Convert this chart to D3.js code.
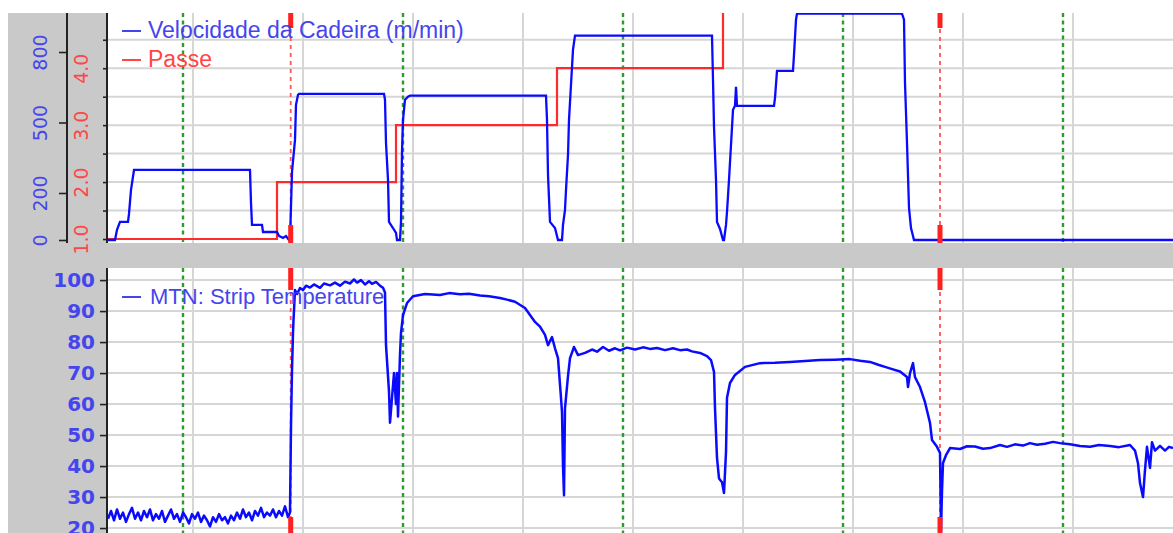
<!DOCTYPE html>
<html>
<head>
<meta charset="utf-8">
<script src="https://cdn.jsdelivr.net/npm/d3@7"></script>
<style>
  html, body { margin: 0; padding: 0; background: #fff; }
  svg { display: block; }
</style>
</head>
<body>
<svg id="chart" width="1173" height="533"></svg>
<script>
// time axis in seconds, gridlines every 55 s
var timeDomain = [12.5, 545];
var gridTimes = [55, 110, 165, 220, 275, 330, 385, 440, 495];
var greenMarks = [50, 160, 270, 380, 490];
var redMarks = [103.85, 428.5];

// Velocidade da Cadeira (m/min)
var speedData = [
  [12.5,0],[16,0],[17,43],[18.5,77],[22.5,77],[23,111],[24,213],[25.5,298],
  [83.5,298],[84,158],[84.5,64],[89.5,64],[90,34],[97,34],[98,17],[100,9],[101.5,17],[103,0],[103.5,0],
  [104,145],[104.5,290],[106,426],[106.5,575],[107.5,618],[108,622],[150.5,622],
  [151,597],[151.5,413],[152.5,256],[153,77],[155,51],[156.5,30],[157,0],[158.5,0],
  [159,77],[159.5,375],[160,511],[161,597],[162.5,610],[163.5,614],[231.5,614],
  [232,511],[232.5,277],[233.5,77],[236,51],[237.5,0],[239.5,0],
  [240,64],[241,128],[241.5,213],[242.5,362],[243,511],[244,661],[245,810],[246,870],[314.5,870],
  [315,682],[315.5,482],[316.5,256],[317,77],[318.5,47],[320,0],[320.5,0],
  [321.5,64],[322,119],[323,256],[324,405],[325,554],[326,571],[326.5,652],[327,571],[345.5,571],
  [346,605],[347,720],[355,720],[355.5,789],[356.5,938],[357,963],[409.5,963],
  [410.5,938],[411,669],[412,413],[413,136],[414,51],[415.5,0],[545,0]
];

// Passe
var passeData = [[12.5,1],[97,2],[156.5,3],[237,4],[320,5],[545,5]];

// MTN: Strip Temperature
var tempData = [
  [12.5,23],[14,25.5],[15.5,22.5],[17,26],[18.5,23],[20,25],[21.5,22],[23,24.5],[24.5,26.5],[26,23],
  [27.5,25],[29,22.5],[30.5,25.5],[32,23.5],[33.5,26],[35,22.5],[36.5,24.5],[38,23],[39.5,25.5],[41,22],
  [42.5,24],[44,26],[45.5,23],[47,24.5],[48.5,22],[50,25],[51.5,23.5],[53,21.5],[54.5,24.5],[56,23],
  [57.5,25],[59,22],[60.5,24],[62,22.5],[63.5,20.5],[65,23.5],[66.5,22],[68,24.5],[69.5,22.5],[71,23.5],
  [72.5,21.5],[74,24],[75.5,22.5],[77,25],[78.5,23],[80,26],[81.5,23.5],[83,25],[84.5,22.5],[86,25.5],
  [87.5,24],[89,26.5],[90.5,23.5],[92,25],[93.5,24],[95,26],[96.5,23.5],[98,25.5],[99.5,24],[101,27],
  [102.5,23.5],[103.5,25],
  [104,53],[104.5,71],[105,83],[105.25,87],[106,96.8],[107,95.5],[108.5,97.4],[110,96.8],[111.5,98.2],
  [113.5,97.6],[115.5,98.6],[118.5,97.5],[120.5,98.9],[123.5,98.3],[126,99.2],[128.5,98.2],[131,99.5],
  [133.5,98.9],[135.5,100.2],[137,99.2],[139,100],[141,98.6],[143,99.6],[144.5,98.8],[146.5,99.4],
  [148.5,98.2],[150,97.5],[151,96],[151.5,79],[153,64],[153.5,54],[154.5,62],[155.5,70],[156.5,60],
  [157,70],[157.5,56],[158.5,76],[159,83],[160,88.7],[162,92.6],[165,94.8],[171,95.5],[178.5,95.2],
  [183,95.8],[188.5,95.4],[193,95.6],[198.5,95],[203,94.8],[208.5,94.2],[212,93.7],[216,93],[221,91],
  [226,86.5],[228.5,85],[231,82.3],[232.5,79],[234.5,81.6],[236,78],[237.5,74.8],[239,62],[239.5,57.4],
  [240,40],[240.5,30.6],[241,58.7],[242.5,69],[243.5,74.8],[245.5,78.4],[247.5,75.8],[251,76.5],
  [254.5,77.6],[257,76.9],[260,78.4],[263,77.2],[266,78],[268.5,77.3],[272,78.2],[276,77.6],[280,78.3],
  [283.5,77.8],[287,78.1],[291,77.4],[295,78],[298.5,77.4],[302,77.6],[304.5,77],[308.5,76.5],[312,75.5],
  [314,74.2],[315.5,70.4],[316,58.7],[317,42.6],[318,36],[319.5,34.8],[320.5,31.3],[321.5,44.5],[322,62],
  [323.5,66.8],[326,69.4],[331,72],[338.5,73.2],[346,73.3],[353.5,73.6],[361,73.9],[368.5,74.2],
  [376,74.3],[383.5,74.5],[388.5,74],[393.5,73.6],[398,72.6],[401,72],[405,71.2],[408.5,70.5],[412,68.7],
  [412.5,65.5],[413.5,70],[415,73.2],[416,68.7],[418.5,65.5],[421,60.6],[423.5,53.9],[424.5,48.4],
  [427,46.2],[428.5,44.2],[428.75,32],[429,19],[429.5,32],[430,41],[431.5,43.5],[433.5,45.8],[438.5,45.5],
  [442,46.4],[446,46.3],[450,45.6],[453.5,45.8],[458.5,46.8],[462,46.2],[466,47],[470,46.6],[473.5,47.4],
  [477,46.9],[481,47.2],[485,47.8],[488.5,47.4],[493.5,47],[498.5,46.5],[503.5,46.2],[508,46.8],
  [513.5,46.5],[518,46.1],[523.5,46.8],[526,45],[527.5,40.9],[528.5,34.5],[530,30],[531,38.7],[532,46.2],
  [533.5,39.4],[534.5,47.7],[536,45],[538.5,46.5],[541,45],[543,46.2],[545,45.8]
];

var speedTicks = [0, 200, 500, 800];
var passeTicks = [1, 1.5, 2, 2.5, 3, 3.5, 4, 4.5];
var tempTicks = [20, 30, 40, 50, 60, 70, 80, 90, 100];

var legendTop = ["Velocidade da Cadeira (m/min)", "Passe"];
var legendBottom = ["MTN: Strip Temperature"];

/*
  Layout
*/
var W = 1173, H = 533;
var plotLeft = 108, plotRight = 1173;
var top1 = 13, bot1 = 243, top2 = 268, bot2 = 533;

var BLUE = "#0a0aff", RED = "#ff2a2a", GREEN = "#2f9a2f", GRID = "#d6d6d6", PANEL = "#c9c9c9";
var BLUE_TXT = "#4545ee", RED_TXT = "#ff4545";

var svg = d3.select("#chart");

var x = d3.scaleLinear().domain(timeDomain).range([plotLeft, plotRight]);
var ySpeed = d3.scaleLinear().domain([-12.8, 966]).range([bot1, top1]);
var yPasse = d3.scaleLinear().domain([0.93, 4.97]).range([bot1, top1]);
var yTemp = d3.scaleLinear().domain([18.4, 103.9]).range([bot2, top2]);

var defs = svg.append("defs");
defs.append("clipPath").attr("id", "clipTop")
  .append("rect").attr("x", plotLeft).attr("y", top1).attr("width", plotRight - plotLeft).attr("height", bot1 - top1);
defs.append("clipPath").attr("id", "clipBot")
  .append("rect").attr("x", plotLeft).attr("y", top2).attr("width", plotRight - plotLeft).attr("height", bot2 - top2);

// gray frame and white plot areas
svg.append("rect").attr("x", 8).attr("y", top1).attr("width", W - 8).attr("height", H - top1).attr("fill", PANEL);
svg.append("rect").attr("x", plotLeft).attr("y", top1).attr("width", plotRight - plotLeft).attr("height", bot1 - top1).attr("fill", "#fff");
svg.append("rect").attr("x", plotLeft).attr("y", top2).attr("width", plotRight - plotLeft).attr("height", bot2 - top2).attr("fill", "#fff");

function drawPanelGrid(g, yScale, ticks, y0, y1) {
  g.selectAll("line.h").data(ticks).enter().append("line")
    .attr("class", "h")
    .attr("x1", plotLeft).attr("x2", plotRight)
    .attr("y1", function(d) { return yScale(d); }).attr("y2", function(d) { return yScale(d); })
    .attr("stroke", GRID).attr("stroke-width", 2);
  g.selectAll("line.v").data(gridTimes).enter().append("line")
    .attr("class", "v")
    .attr("x1", function(d) { return x(d); }).attr("x2", function(d) { return x(d); })
    .attr("y1", y0).attr("y2", y1)
    .attr("stroke", GRID).attr("stroke-width", 2);
  g.selectAll("line.green").data(greenMarks).enter().append("line")
    .attr("class", "green")
    .attr("x1", function(d) { return x(d); }).attr("x2", function(d) { return x(d); })
    .attr("y1", y0).attr("y2", y1)
    .attr("stroke", GREEN).attr("stroke-width", 2.4).attr("stroke-dasharray", "4,3.5");
  g.selectAll("line.red").data(redMarks).enter().append("line")
    .attr("class", "red")
    .attr("x1", function(d) { return x(d); }).attr("x2", function(d) { return x(d); })
    .attr("y1", y0).attr("y2", y1)
    .attr("stroke", "#ff5555").attr("stroke-width", 1.8).attr("stroke-dasharray", "4,4");
}

var gTop = svg.append("g").attr("clip-path", "url(#clipTop)");
var gBot = svg.append("g").attr("clip-path", "url(#clipBot)");

drawPanelGrid(gTop, yPasse, passeTicks.filter(function(d) { return d > 1; }), top1, bot1);
drawPanelGrid(gBot, yTemp, tempTicks, top2, bot2);

// data lines
gTop.append("path")
  .datum(passeData)
  .attr("fill", "none").attr("stroke", RED).attr("stroke-width", 2.2)
  .attr("d", d3.line().curve(d3.curveStepAfter)
    .x(function(d) { return x(d[0]); }).y(function(d) { return yPasse(d[1]); }));

gTop.append("path")
  .datum(speedData)
  .attr("fill", "none").attr("stroke", BLUE).attr("stroke-width", 2.3)
  .attr("d", d3.line()
    .x(function(d) { return x(d[0]); }).y(function(d) { return ySpeed(d[1]); }));

gBot.append("path")
  .datum(tempData)
  .attr("fill", "none").attr("stroke", BLUE).attr("stroke-width", 2.5)
  .attr("stroke-linejoin", "round")
  .attr("d", d3.line()
    .x(function(d) { return x(d[0]); }).y(function(d) { return yTemp(d[1]); }));

// thick red markers at the ends of the event lines
var markerSpans = [[top1, top1 + 15], [bot1 - 18, bot1], [top2, top2 + 22], [bot2 - 16, bot2]];
redMarks.forEach(function(t) {
  svg.selectAll(null).data(markerSpans).enter().append("rect")
    .attr("x", x(t) - 2.5).attr("width", 5)
    .attr("y", function(d) { return d[0]; })
    .attr("height", function(d) { return d[1] - d[0]; })
    .attr("fill", "#ff2020");
});

/*
  Axes
*/
function styleAxis(g, color, size, weight) {
  g.select(".domain").attr("stroke", "#222").attr("stroke-width", 2);
  g.selectAll(".tick line").attr("stroke", "#222").attr("stroke-width", 1.6);
  g.selectAll(".tick text")
    .attr("fill", color)
    .style("font-family", "'DejaVu Sans', Verdana, sans-serif")
    .style("font-size", size + "px")
    .style("font-weight", weight);
}

var axSpeed = svg.append("g")
  .attr("transform", "translate(67,0)")
  .call(d3.axisLeft(ySpeed).tickValues(speedTicks).tickSize(8).tickSizeOuter(0).tickFormat(d3.format("d")));
axSpeed.select(".domain").attr("d", "M0," + top1 + "V" + bot1);
styleAxis(axSpeed, BLUE_TXT, 19, "normal");
axSpeed.selectAll(".tick text")
  .attr("x", null).attr("dy", "0.36em")
  .attr("text-anchor", "middle")
  .attr("transform", "translate(-27,0) rotate(-90)");

var axPasse = svg.append("g")
  .attr("transform", "translate(" + (plotLeft - 1) + ",0)")
  .call(d3.axisLeft(yPasse).tickValues(passeTicks).tickSize(4).tickSizeOuter(0)
    .tickFormat(function(d) { return d % 1 === 0 ? d3.format(".1f")(d) : ""; }));
axPasse.select(".domain").attr("d", "M0," + top1 + "V" + bot1);
styleAxis(axPasse, RED_TXT, 19, "normal");
axPasse.selectAll(".tick text")
  .attr("x", null).attr("dy", "0.36em")
  .attr("text-anchor", "middle")
  .attr("transform", "translate(-25.5,0) rotate(-90)");

var axTemp = svg.append("g")
  .attr("transform", "translate(" + (plotLeft - 1) + ",0)")
  .call(d3.axisLeft(yTemp).tickValues(tempTicks).tickSize(7).tickSizeOuter(0).tickPadding(5));
axTemp.select(".domain").attr("d", "M0," + top2 + "V" + bot2);
styleAxis(axTemp, BLUE_TXT, 20, "bold");

/*
  Legends
*/
function drawLegend(items, colors, y0, step, size, textX) {
  items.forEach(function(label, i) {
    var y = y0 + i * step;
    svg.append("line")
      .attr("x1", 122).attr("x2", 141).attr("y1", y - 7).attr("y2", y - 7)
      .attr("stroke", colors[i]).attr("stroke-width", 2);
    svg.append("text")
      .attr("x", textX).attr("y", y)
      .attr("fill", colors[i])
      .style("font-family", "'Liberation Sans', Arial, sans-serif")
      .style("font-size", size + "px")
      .text(label);
  });
}

drawLegend(legendTop, [BLUE_TXT, RED_TXT], 38, 29, 23, 148);
drawLegend(legendBottom, [BLUE_TXT], 304, 0, 22, 150);
</script>
</body>
</html>
